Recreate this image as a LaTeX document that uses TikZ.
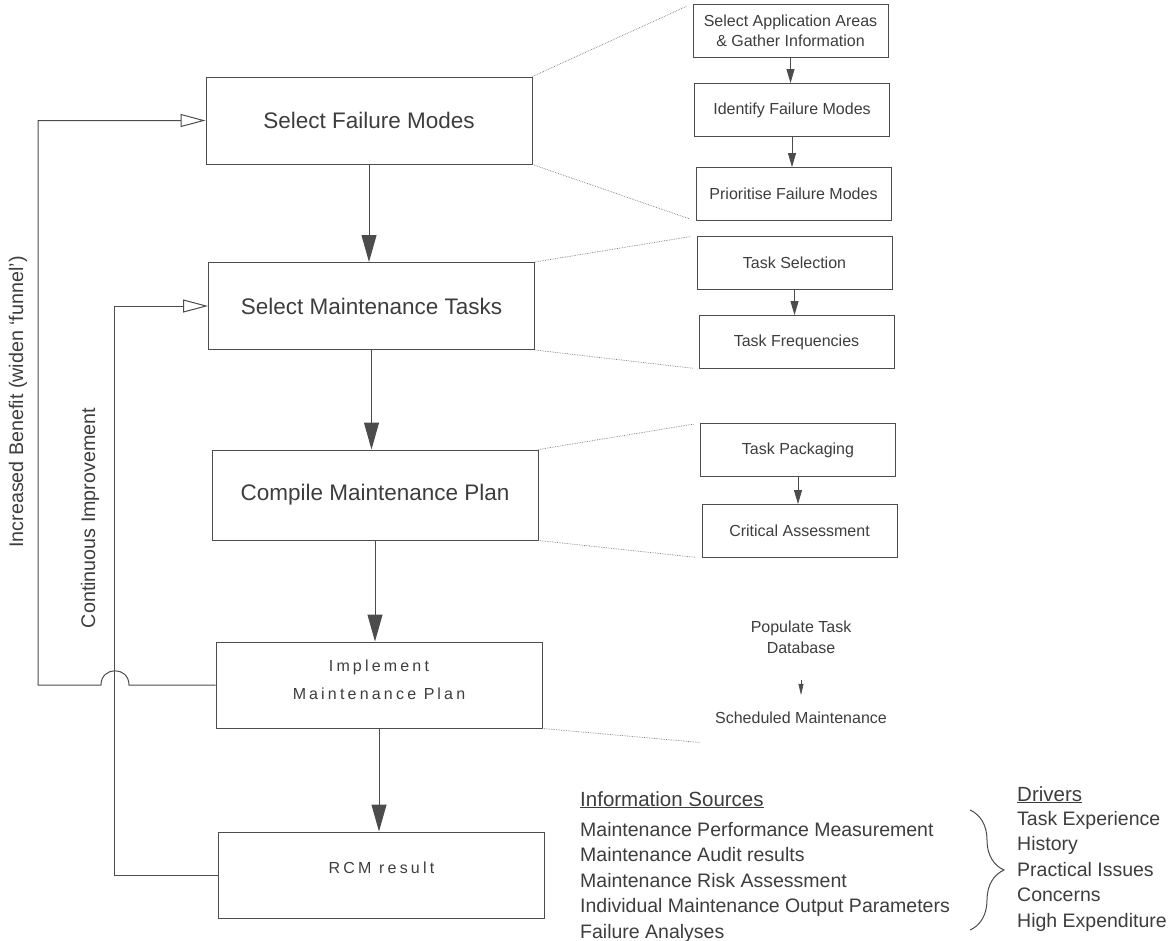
\documentclass[tikz,border=0pt]{standalone}
\usepackage{fontspec}
\setmainfont{Liberation Sans}
\usetikzlibrary{arrows.meta,decorations.pathreplacing}
\definecolor{ink}{gray}{0.24}
\definecolor{rule}{gray}{0.30}
\definecolor{dots}{gray}{0.48}

\begin{document}
\begin{tikzpicture}[x=1pt,y=-1pt,
  stage/.style={draw=rule, line width=1pt, minimum width=326pt, minimum height=87pt,
    inner sep=0pt, text=ink, font=\fontsize{22.5}{27}\selectfont},
  substep/.style={draw=rule, line width=0.9pt, minimum width=195pt, minimum height=53pt,
    inner sep=0pt, text=ink, align=center, font=\fontsize{16}{20}\selectfont},
  spaced/.style={font=\fontsize{16}{28}\selectfont\addfontfeatures{LetterSpace=20}},
  plain/.style={text=ink, inner sep=0pt},
  flow/.style={draw=rule, line width=1pt, -{Triangle[length=27pt,width=15pt]}},
  subflow/.style={draw=rule, line width=0.9pt, -{Triangle[length=14pt,width=8pt]}},
  tinyflow/.style={draw=rule, line width=0.6pt, -{Triangle[length=11pt,width=5pt]}},
  feedback/.style={draw=rule, line width=1pt, -{Triangle[open,length=25pt,width=13pt]}},
  link/.style={draw=dots, line width=0.7pt, densely dotted, shorten >=6pt},
]
\useasboundingbox (0,0) rectangle (1174,940);

% main RCM stages
\node[stage] (fm) at (369,120.5) {Select Failure Modes};
\node[stage] (mt) at (371.5,306) {Select Maintenance Tasks};
\node[stage, minimum height=90pt] (cp) at (375,495) {Compile Maintenance Plan};
\node[stage, spaced, minimum height=86pt] (im) at (379,685)
  {\raisebox{5.5pt}[\height][\depth]{\begin{tabular}{@{}c@{}}Im\kern3pt plement\\M\kern3pt aintenance P\kern3pt lan\end{tabular}}};
\node[stage, spaced, minimum height=86pt] (rc) at (381.5,875)
  {\raisebox{7pt}[\height][\depth]{RCM result}};

% detailed steps
\node[substep] (sa) at (790.5,30.5) {Select Application Areas\\\& Gather Information};
\node[substep] (id) at (792,110) {Identify Failure Modes};
\node[substep] (pr) at (793.5,194) {Prioritise Failure Modes};
\node[substep] (ts) at (794.5,262.5) {Task Selection};
\node[substep] (tf) at (796.5,342) {Task Frequencies};
\node[substep] (tp) at (798,450) {Task Packaging};
\node[substep] (ca) at (799.5,531) {Critical Assessment};

\node[plain, align=center, font=\fontsize{16}{21}\selectfont] (pop) at (801,637.5) {Populate Task\\Database};
\node[plain, font=\fontsize{16}{19}\selectfont] (sch) at (801,718) {Scheduled Maintenance};

% main flow, straight down from each stage
\draw[flow] (fm.south) -- (fm.south |- mt.north);
\draw[flow] (mt.south) -- (mt.south |- cp.north);
\draw[flow] (cp.south) -- (cp.south |- im.north);
\draw[flow] (im.south) -- (im.south |- rc.north);

% detail flow
\draw[subflow] (sa.south) -- (sa.south |- id.north);
\draw[subflow] (id.south) -- (id.south |- pr.north);
\draw[subflow] (ts.south) -- (ts.south |- tf.north);
\draw[subflow] (tp.south) -- (tp.south |- ca.north);
\draw[tinyflow, shorten <=26pt, shorten >=17pt] (pop) -- (sch);

% expansion guides
\draw[link] (fm.north east) -- (sa.north west);
\draw[link] (fm.south east) -- (pr.south west);
\draw[link] (mt.north east) -- (ts.north west);
\draw[link] (mt.south east) -- (tf.south west);
\draw[link] (cp.north east) -- (tp.north west);
\draw[link] (cp.south east) -- (ca.south west);
\coordinate (imlink) at (706,743);
\draw[link] (im.south east) -- (imlink);

% feedback loops
\draw[feedback] (rc.west) -| ([xshift=-93.5pt]mt.west) -- (mt.west);
\draw[feedback] (im.west) -- (129,685) .. controls (129,666) and (101,666) .. (101,685)
  -- (38,685) |- (fm.west);
\node[plain, rotate=90, font=\fontsize{19.7}{24}\selectfont] (benefit) at (18,402)
  {Increased Benefit (widen `funnel')};
\node[plain, rotate=90, font=\fontsize{19.7}{24}\selectfont] (improve) at (90,518)
  {Continuous Improvement};

% information sources
\node[plain, anchor=base west, font=\fontsize{20.5}{24}\selectfont] (srch) at (580,806) {\underline{Information Sources}};
\node[plain, anchor=base west, font=\fontsize{19.5}{24}\selectfont] (src1) at (580,836) {Maintenance Performance Measurement};
\node[plain, anchor=base west, font=\fontsize{19.5}{24}\selectfont] (src2) at (580,861.5) {Maintenance Audit results};
\node[plain, anchor=base west, font=\fontsize{19.5}{24}\selectfont] (src3) at (580,887) {Maintenance Risk Assessment};
\node[plain, anchor=base west, font=\fontsize{19.5}{24}\selectfont] (src4) at (580,912.5) {Individual Maintenance Output Parameters};
\node[plain, anchor=base west, font=\fontsize{19.5}{24}\selectfont] (src5) at (580,938) {Failure Analyses};

\coordinate (bt) at (970,810);
\coordinate (bb) at (970,930);
\draw[rule, line width=1pt, decorate, decoration={brace, amplitude=34pt}] (bt) -- (bb);

% drivers
\node[plain, anchor=base west, font=\fontsize{20.5}{24}\selectfont] (drvh) at (1017,801) {\underline{Drivers}};
\node[plain, anchor=base west, font=\fontsize{19.5}{24}\selectfont] (drv1) at (1017,825) {Task Experience};
\node[plain, anchor=base west, font=\fontsize{19.5}{24}\selectfont] (drv2) at (1017,850.5) {History};
\node[plain, anchor=base west, font=\fontsize{19.5}{24}\selectfont] (drv3) at (1017,876) {Practical Issues};
\node[plain, anchor=base west, font=\fontsize{19.5}{24}\selectfont] (drv4) at (1017,901.5) {Concerns};
\node[plain, anchor=base west, font=\fontsize{19.5}{24}\selectfont] (drv5) at (1017,927) {High Expenditure};
\end{tikzpicture}
\end{document}
